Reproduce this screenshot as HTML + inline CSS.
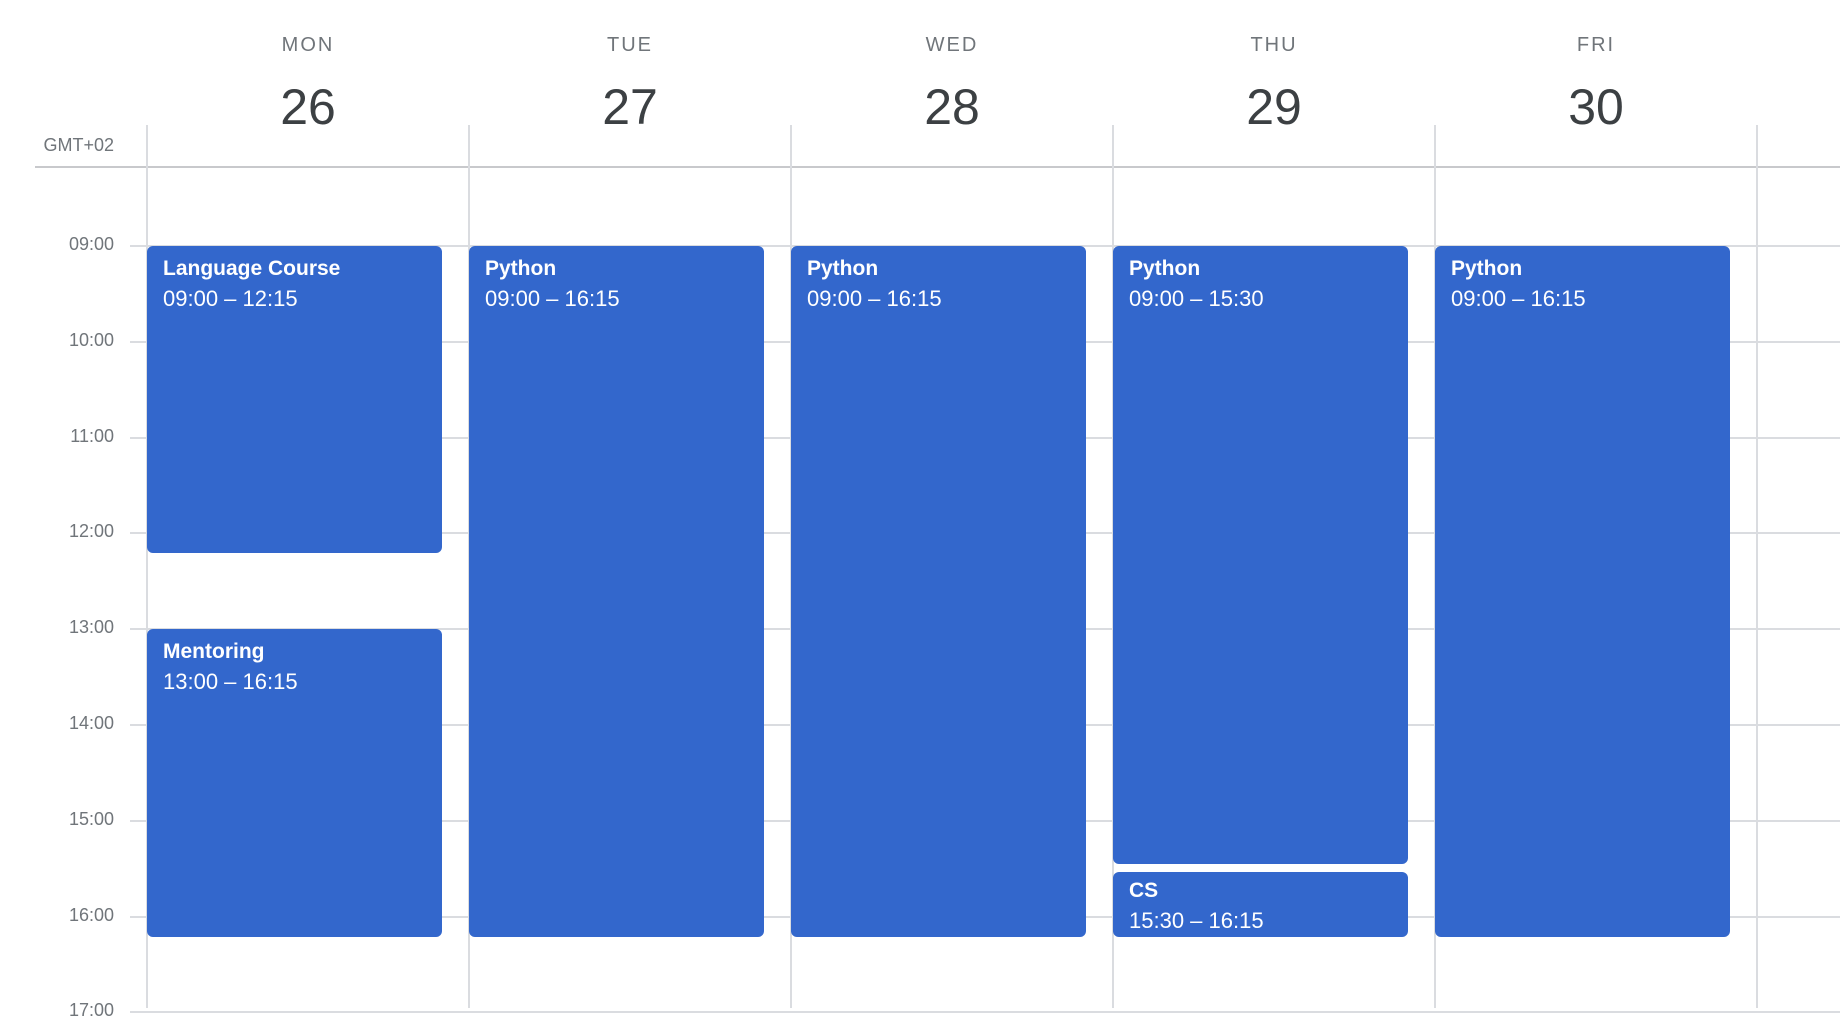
<!DOCTYPE html>
<html><head><meta charset="utf-8"><style>
body{margin:0;width:1840px;height:1008px;overflow:hidden;background:#fff;font-family:"Liberation Sans",sans-serif;position:relative}
.abs{position:absolute}
.dow{position:absolute;top:34px;width:322px;text-align:center;font-size:20px;letter-spacing:2px;color:#70757a}
.dnum{position:absolute;top:78px;width:322px;text-align:center;font-size:50px;color:#3c4043}
.hl{position:absolute;left:130px;right:0;height:2px;background:#dadce0}
.vl{position:absolute;width:2px;background:#dadce0;top:125px;bottom:0}
.hr{position:absolute;left:0;width:114px;text-align:right;font-size:18px;color:#70757a}
.ev{position:absolute;background:#3367cc;border-radius:6px;color:#fff;box-sizing:border-box;padding:8px 16px;overflow:hidden}
.ev b{display:block;font-size:21px;line-height:30px}
.ev span{display:block;font-size:22px;line-height:30px}
</style></head><body>
<div class="abs" style="left:0;width:114px;text-align:right;top:135px;font-size:18px;color:#70757a">GMT+02</div>
<div class="abs" style="left:35px;right:0;top:166px;height:2px;background:#c8c9cc"></div>
<div id="grid"></div>
<script>
const days=["MON","TUE","WED","THU","FRI"];
const dates=["26","27","28","29","30"];
const hours=["09:00","10:00","11:00","12:00","13:00","14:00","15:00","16:00","17:00"];
const evTitles=["Language Course","Mentoring","Python","Python","Python","CS","Python"];
const evDay=[0,0,1,2,3,3,4];
const evStart=[9,13,9,9,9,15.5,9];
const evEnd=[12.25,16.25,16.25,16.25,15.5,16.25,16.25];
const evLabel=["09:00 – 12:15","13:00 – 16:15","09:00 – 16:15","09:00 – 16:15","09:00 – 15:30","15:30 – 16:15","09:00 – 16:15"];
const X0=147,CW=322,Y0=246,HH=95.8;
const xs=d=>X0+d*CW, ys=h=>Math.round(Y0+(h-9)*HH);
const g=document.getElementById('grid');
function mk(cls,name){const e=document.createElement('div');e.className=cls;


g.appendChild(e);return e;}
hours.forEach((h,i)=>{const l=mk('hl','hour-line');l.style.top=(ys(9+i)-1)+'px';
const t=mk('hr','hour-label');t.textContent=h;t.style.top=(ys(9+i)-12)+'px';});
for(let d=0;d<=days.length;d++){const v=mk('vl','column-line');v.style.left=(xs(d)-1)+'px';}
days.forEach((d,i)=>{const a=mk('dow','day-name');a.textContent=d;a.style.left=xs(i)+'px';
const b=mk('dnum','day-date');b.textContent=dates[i];b.style.left=xs(i)+'px';
});
evTitles.forEach((t,i)=>{const e=document.createElement('div');e.className='ev';


const top=ys(evStart[i])+(evStart[i]%1?3:0), bot=ys(evEnd[i])-(evEnd[i]==15.5?5:4);
e.style.left=xs(evDay[i])+'px';e.style.width='295px';e.style.top=top+'px';e.style.height=(bot-top)+'px';
if(bot-top<80)e.style.padding='4px 16px';
e.innerHTML='<b>'+t+'</b><span>'+evLabel[i]+'</span>';g.appendChild(e);});
</script>
</body></html>
